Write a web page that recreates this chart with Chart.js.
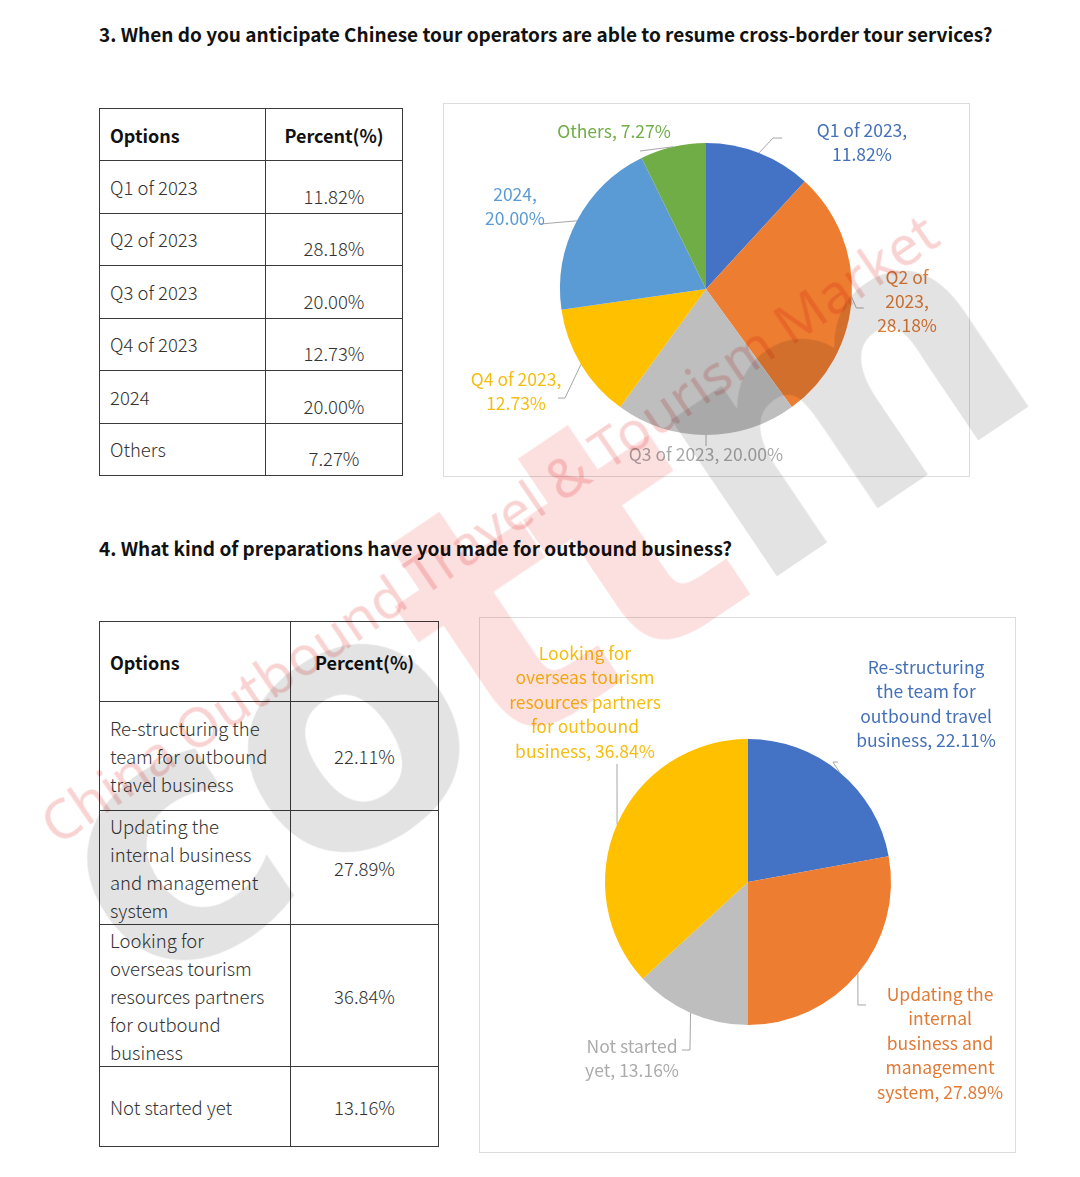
<!DOCTYPE html>
<html>
<head>
<meta charset="utf-8">
<script src="https://cdn.jsdelivr.net/npm/chart.js@4.4.1/dist/chart.umd.min.js"></script>
<style>
html,body{margin:0;padding:0;background:#fff;}
body{width:1080px;height:1177px;position:relative;overflow:hidden;font-family:"Noto Sans CJK SC","Noto Sans",sans-serif;color:#222;}
.h{position:absolute;left:99px;font-weight:bold;font-size:19px;line-height:24px;white-space:nowrap;color:#111;}
table{position:absolute;border-collapse:collapse;table-layout:fixed;}
td{border:1px solid #3a3a3a;padding:0 0 0 10px;font-size:18.5px;font-weight:300;color:#333;box-sizing:border-box;}
td.hd{font-weight:bold;color:#111;font-size:18px;}
#t1 td.v{text-align:center;vertical-align:bottom;padding:0 0 4px 0;}
#t1 td.hd.v{vertical-align:middle;padding:0;}
#t2 td{line-height:28px;}
#t2 td.v{text-align:center;padding:0;}
.box{position:absolute;border:1px solid #dcdcdc;box-sizing:border-box;}
.cv{position:absolute;}
.wm{position:absolute;pointer-events:none;white-space:nowrap;mix-blend-mode:multiply;}
</style>
</head>
<body>
<div class="h" style="top:22px;">3. When do you anticipate Chinese tour operators are able to resume cross-border tour services?</div>
<table id="t1" style="left:99px;top:108px;width:303px;"></table>
<div class="box" style="left:443px;top:103px;width:527px;height:374px;"></div>
<div class="cv" style="left:443px;top:103px;width:526px;height:372px;"><canvas id="c1"></canvas></div>

<div class="h" style="top:536px;">4. What kind of preparations have you made for outbound business?</div>
<table id="t2" style="left:99px;top:621px;width:339px;"></table>
<div class="box" style="left:479px;top:617px;width:537px;height:536px;"></div>
<div class="cv" style="left:479px;top:617px;width:538px;height:530px;"><canvas id="c2"></canvas></div>

<div class="wm" style="left:528px;top:600px;transform:translate(-50%,-50%) rotate(-34deg);font-size:345px;line-height:1;font-weight:900;font-family:'DejaVu Sans','Lato',sans-serif;letter-spacing:-10px;"><span style="color:rgba(0,0,0,0.11)">co</span><span style="color:rgba(235,50,50,0.15)">tt</span><span style="color:rgba(0,0,0,0.11)">m</span></div>
<div class="wm" style="left:488px;top:527px;transform:translate(-50%,-50%) rotate(-34.3deg);font-size:55px;color:rgba(232,95,95,0.28);font-family:'Noto Sans',sans-serif;">China Outbound Travel &amp; Tourism Market</div>

<script>
// ---------- DATA ----------
const q3Categories = ['Q1 of 2023', 'Q2 of 2023', 'Q3 of 2023', 'Q4 of 2023', '2024', 'Others'];
const q3Values = [11.82, 28.18, 20.00, 12.73, 20.00, 7.27];
const q3Colors = ['#4472C4', '#ED7D31', '#BEBEBE', '#FFC000', '#5B9BD5', '#70AD47'];
const q3TextColors = ['#4470B8', '#E07A35', '#A9A9A9', '#F5BD10', '#5B9BD5', '#70AD47'];

const q4Categories = [
  'Re-structuring the team for outbound travel business',
  'Updating the internal business and management system',
  'Looking for overseas tourism resources partners for outbound business',
  'Not started yet'
];
const q4Values = [22.11, 27.89, 36.84, 13.16];
const q4TableBreaks = [[2, 3, 2], [2, 2, 2, 1], [2, 2, 2, 2, 1], [3]];
const q4PieOrder = [0, 1, 3, 2];
const q4Colors = ['#4472C4', '#ED7D31', '#FFC000', '#BEBEBE'];
const q4TextColors = ['#4470B8', '#E07A35', '#F5BD10', '#ABABAB'];

const fmt = v => v.toFixed(2) + '%';

function splitBreaks(tokens, breaks) {
  const out = []; let k = 0;
  breaks.forEach(n => { out.push(tokens.slice(k, k + n).join(' ')); k += n; });
  return out;
}

// ---------- TABLES ----------
(function () {
  const t1 = document.getElementById('t1');
  let html = '<colgroup><col style="width:166px"><col style="width:137px"></colgroup>';
  html += '<tr style="height:52px"><td class="hd">Options</td><td class="hd v">Percent(%)</td></tr>';
  q3Categories.forEach((c, i) => {
    html += '<tr style="height:52.5px"><td>' + c + '</td><td class="v">' + fmt(q3Values[i]) + '</td></tr>';
  });
  t1.innerHTML = html;

  const t2 = document.getElementById('t2');
  const heights = [109, 114, 142, 80];
  let h2 = '<colgroup><col style="width:191px"><col style="width:148px"></colgroup>';
  h2 += '<tr style="height:80px"><td class="hd">Options</td><td class="hd v">Percent(%)</td></tr>';
  q4Categories.forEach((c, i) => {
    const lines = splitBreaks(c.split(' '), q4TableBreaks[i]);
    h2 += '<tr style="height:' + heights[i] + 'px"><td>' + lines.join('<br>') + '</td><td class="v">' + fmt(q4Values[i]) + '</td></tr>';
  });
  t2.innerHTML = h2;
})();

// ---------- LABEL PLUGIN ----------
const extLabels = {
  id: 'extLabels',
  afterDatasetsDraw(chart, args, opts) {
    const meta = chart.getDatasetMeta(0);
    const ctx = chart.ctx;
    const ds = chart.data.datasets[0];
    opts.items.forEach((it, i) => {
      const arc = meta.data[i];
      const p = arc.getProps(['x', 'y', 'startAngle', 'endAngle', 'outerRadius'], true);
      const R = p.outerRadius;
      const mid = (p.startAngle + p.endAngle) / 2;
      const pts = [[p.x + Math.cos(mid) * R, p.y + Math.sin(mid) * R]]
        .concat(it.line.map(q => [p.x + q[0] * R, p.y + q[1] * R]));
      ctx.save();
      ctx.strokeStyle = '#A6A6A6';
      ctx.lineWidth = 1;
      ctx.beginPath();
      pts.forEach((q, k) => k ? ctx.lineTo(q[0], q[1]) : ctx.moveTo(q[0], q[1]));
      ctx.stroke();
      const words = chart.data.labels[i].split(' ');
      words[words.length - 1] += ',';
      const tokens = words.concat([fmt(ds.data[i])]);
      const lines = splitBreaks(tokens, it.breaks);
      ctx.fillStyle = opts.textColors[i];
      ctx.font = opts.font;
      ctx.textAlign = 'center';
      ctx.textBaseline = 'middle';
      lines.forEach((ln, k) => ctx.fillText(ln, p.x + it.pos[0] * R, p.y + it.pos[1] * R + k * opts.lineHeight));
      ctx.restore();
    });
  }
};

function makePie(id, labels, values, colors, radius, labelOpts) {
  return new Chart(document.getElementById(id), {
    type: 'pie',
    data: {
      labels: labels,
      datasets: [{ data: values, backgroundColor: colors, borderWidth: 0, hoverOffset: 0, offset: 0, radius: radius }]
    },
    options: {
      responsive: true,
      maintainAspectRatio: false,
      animation: false,
      events: [],
      layout: { padding: 0 },
      plugins: { legend: { display: false }, tooltip: { enabled: false }, extLabels: labelOpts }
    },
    plugins: [extLabels]
  });
}

makePie('c1', q3Categories, q3Values, q3Colors, 146, {
  font: '17.5px "Noto Sans CJK SC", "Noto Sans", sans-serif',
  lineHeight: 24,
  textColors: q3TextColors,
  items: [
    { pos: [1.068, -1.089], breaks: [3, 1], line: [[0.459, -1.034], [0.521, -1.034]] },
    { pos: [1.377, -0.082], breaks: [2, 1, 1], line: [[1.03, 0.13], [1.08, 0.13]] },
    { pos: [0, 1.130], breaks: [4], line: [[0, 1.075]] },
    { pos: [-1.301, 0.616], breaks: [3, 1], line: [[-0.966, 0.747], [-1.014, 0.747]] },
    { pos: [-1.308, -0.651], breaks: [1, 1], line: [[-1.137, -0.445]] },
    { pos: [-0.630, -1.082], breaks: [2], line: [[-0.452, -0.945]] }
  ]
});

makePie('c2', q4PieOrder.map(i => q4Categories[i]), q4PieOrder.map(i => q4Values[i]),
  q4PieOrder.map(i => q4Colors[i]), 143, {
  font: '17.5px "Noto Sans CJK SC", "Noto Sans", sans-serif',
  lineHeight: 24.5,
  textColors: q4PieOrder.map(i => q4TextColors[i]),
  items: [
    { pos: [1.245, -1.503], breaks: [1, 3, 2, 2], line: [[0.594, -0.839], [0.629, -0.839]] },
    { pos: [1.343, 0.783], breaks: [2, 1, 2, 1, 2], line: [[0.769, 0.86], [0.825, 0.86]] },
    { pos: [-0.811, 1.147], breaks: [2, 2], line: [[-0.406, 1.175], [-0.462, 1.175]] },
    { pos: [-1.140, -1.601], breaks: [2, 2, 2, 2, 2], line: [[-0.916, -0.825]] }
  ]
});
</script>
</body>
</html>
